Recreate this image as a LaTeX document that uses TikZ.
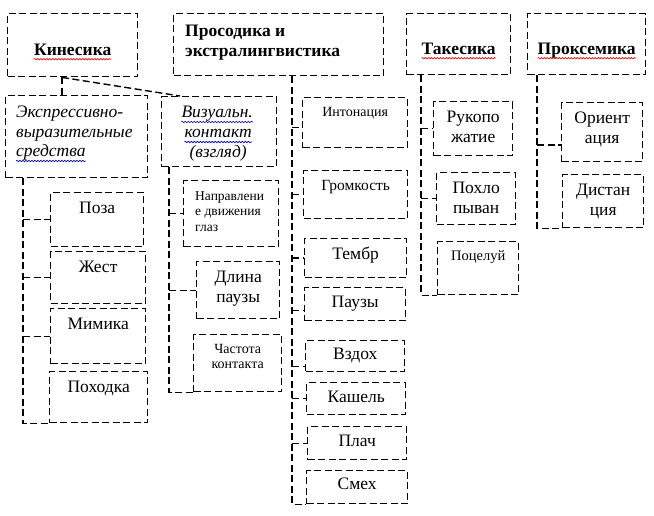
\documentclass[tikz,border=0pt]{standalone}
\usepackage{fontspec}
\setmainfont{Liberation Serif}
\usetikzlibrary{positioning, calc, decorations.pathmorphing}

\begin{document}
\begin{tikzpicture}[
  x=1pt, y=-1pt,
  box/.style={draw, dash pattern=on 7pt off 3.5pt, line width=1.4pt, inner sep=0pt, anchor=north west},
  link/.style={draw, dash pattern=on 7pt off 3.5pt, line width=1.4pt},
  head/.style={font=\fontsize{17.5}{20}\selectfont\bfseries, align=left, inner sep=0pt},
  txt/.style={font=\fontsize{17.5}{20}\selectfont, align=center, inner sep=0pt},
  sml/.style={font=\fontsize{14}{15.5}\selectfont, align=center, inner sep=0pt},
  ita/.style={font=\fontsize{17.5}{20}\selectfont\itshape, inner sep=0pt},
  squig/.style={decorate, decoration={snake, amplitude=0.8pt, segment length=3pt}, line width=0.6pt},
  node distance=10pt
]
\useasboundingbox (0,0) rectangle (654,516);

% Top row
\node[box, minimum width=130pt, minimum height=63pt] (kin) at (7,13) {};
\node[box, minimum width=210pt, minimum height=62pt] (pros) at (173,13) {};
\node[box, minimum width=104pt, minimum height=61pt] (tak) at (406,13) {};
\node[box, minimum width=118pt, minimum height=61pt] (prox) at (527,13) {};
\node[head, anchor=base] (kin-t) at ($(kin.center)+(0,10)$) {Кинесика};
\node[head, anchor=north west] (pros-t) at ($(pros.north west)+(12,12)$) {Просодика и\\экстралингвистика};
\node[head, anchor=base] (tak-t) at ($(tak.center)+(0,10)$) {Такесика};
\node[head, anchor=base] (prox-t) at ($(prox.center)+(0,10)$) {Проксемика};

% Kinesics
\node[box, minimum width=142pt, minimum height=82pt] (expr) at (5,95) {};
\node[box, minimum width=115pt, minimum height=70pt] (viz) at (161,96) {};
\node[ita, align=left, anchor=north west] (expr-t) at ($(expr.north west)+(11,11)$) {Экспрессивно-\\выразительные};
\node[ita, anchor=base west] (expr-t2) at ($(expr.north west)+(11,62)$) {средства};
\node[ita, anchor=base] (viz-t1) at ($(viz.north)+(-2,22)$) {Визуальн.};
\node[ita, anchor=base] (viz-t2) at ($(viz.north)+(-1,42)$) {контакт};
\node[ita, anchor=base] (viz-t3) at ($(viz.north)+(-1,62)$) {(взгляд)};

\node[box, minimum width=93pt, minimum height=54pt] (poza) at (50,192) {};
\node[box, minimum width=95pt, minimum height=52pt] (zhest) at (50,251) {};
\node[box, minimum width=95pt, minimum height=55pt] (mimika) at (50,308) {};
\node[box, minimum width=98pt, minimum height=51pt] (pohodka) at (49,371) {};
\node[txt, below=of poza.north] (poza-t) {Поза};
\node[txt, below=of zhest.north] (zhest-t) {Жест};
\node[txt, below=of mimika.north] (mimika-t) {Мимика};
\node[txt, below=of pohodka.north] (pohodka-t) {Походка};

\node[box, minimum width=95pt, minimum height=66pt] (naprav) at (183,180) {};
\node[box, minimum width=83pt, minimum height=57pt] (dlina) at (196,261) {};
\node[box, minimum width=88pt, minimum height=57pt] (chastota) at (193,334) {};
\node[sml, font=\fontsize{13.5}{15.5}\selectfont, align=left, anchor=north west] (naprav-t) at ($(naprav.north west)+(12,11)$) {Направлени\\е движения\\глаз};
\node[txt, below=of dlina.north] (dlina-t) {Длина\\паузы};
\node[sml, below=of chastota.north] (chastota-t) {Частота\\контакта};

% Prosody
\node[box, minimum width=105pt, minimum height=50pt] (inton) at (302,97) {};
\node[box, minimum width=104pt, minimum height=48pt] (gromk) at (303,170) {};
\node[box, minimum width=102pt, minimum height=39pt] (tembr) at (304,238) {};
\node[box, minimum width=101pt, minimum height=33pt] (pauzy) at (304,287) {};
\node[box, minimum width=99pt, minimum height=31pt] (vzdoh) at (305,340) {};
\node[box, minimum width=99pt, minimum height=32pt] (kashel) at (306,382) {};
\node[box, minimum width=99pt, minimum height=33pt] (plach) at (307,426) {};
\node[box, minimum width=101pt, minimum height=33pt] (smeh) at (306,470) {};
\node[sml, below=of inton.north] (inton-t) {Интонация};
\node[txt, font=\fontsize{15.5}{18}\selectfont, below=of gromk.north] (gromk-t) {Громкость};
\node[txt, below=9pt of tembr.north] (tembr-t) {Тембр};
\node[txt, below=9pt of pauzy.north] (pauzy-t) {Паузы};
\node[txt, below=8pt of vzdoh.north] (vzdoh-t) {Вздох};
\node[txt, below=9pt of kashel.north] (kashel-t) {Кашель};
\node[txt, below=9pt of plach.north] (plach-t) {Плач};
\node[txt, below=8pt of smeh.north] (smeh-t) {Смех};

% Takesics
\node[box, minimum width=79pt, minimum height=54pt] (ruko) at (433,101) {};
\node[box, minimum width=79pt, minimum height=52pt] (pohlop) at (436,172) {};
\node[box, minimum width=81pt, minimum height=53pt] (poceluy) at (437,241) {};
\node[txt, below=of ruko.north] (ruko-t) {Рукопо\\жатие};
\node[txt, below=of pohlop.north] (pohlop-t) {Похло\\пыван};
\node[sml, font=\fontsize{14.5}{16}\selectfont, below=9pt of poceluy.north] (poceluy-t) {Поцелуй};

% Proxemics
\node[box, minimum width=81pt, minimum height=59pt] (orient) at (561,102) {};
\node[box, minimum width=81pt, minimum height=53pt] (dist) at (562,174) {};
\node[txt, below=of orient.north] (orient-t) {Ориент\\ация};
\node[txt, below=of dist.north] (dist-t) {Дистан\\ция};

% Spell-check waves
\foreach \t in {kin-t, tak-t, prox-t}
  \draw[squig, red] ([yshift=-4pt]\t.base west) -- ([yshift=-4pt]\t.base east);
\foreach \t in {expr-t2, viz-t1, viz-t2}
  \draw[squig, blue!80!black] ([yshift=-4pt]\t.base west) -- ([yshift=-4pt]\t.base east);

% Spines
\coordinate (k0) at ($(kin.south west)+(55,0)$);
\coordinate (k1) at ($(viz.north west)+(19,0)$);
\draw[link] (k0) -- (k0 |- expr.north);
\draw[link] (k0) -- (k1);

\coordinate (e0) at ($(expr.south west)+(18,0)$);
\draw[link] (e0) |- (pohodka.south west);
\foreach \c in {poza, zhest, mimika}
  \draw[link] (e0 |- \c.west) -- (\c.west);

\coordinate (v0) at ($(viz.south west)+(8,0)$);
\draw[link] (v0) |- (chastota.south west);
\foreach \c in {naprav, dlina}
  \draw[link] (v0 |- \c.west) -- (\c.west);

\coordinate (p0) at ($(pros.south west)+(119,0)$);
\coordinate (p1) at ([yshift=-5pt]inton.west);
\coordinate (p2) at ([yshift=-6pt]pauzy.west);
\coordinate (p3) at ([yshift=-10pt]vzdoh.west);
\draw[link] (p0) |- (smeh.south west);
\foreach \c in {p1, gromk.west, tembr.west, p2, p3, kashel.west, plach.west}
  \draw[link] (p0 |- \c) -- (\c);

\coordinate (t0) at ($(tak.south west)+(15,0)$);
\draw[link] (t0) |- (poceluy.south west);
\foreach \c in {ruko, pohlop}
  \draw[link] (t0 |- \c.west) -- (\c.west);

\coordinate (x0) at ($(prox.south west)+(10,0)$);
\coordinate (x1) at ([yshift=-13pt]orient.west);
\draw[link] (x0) |- (dist.south west);
\draw[link] (x0 |- x1) -- (x1);

\end{tikzpicture}
\end{document}
